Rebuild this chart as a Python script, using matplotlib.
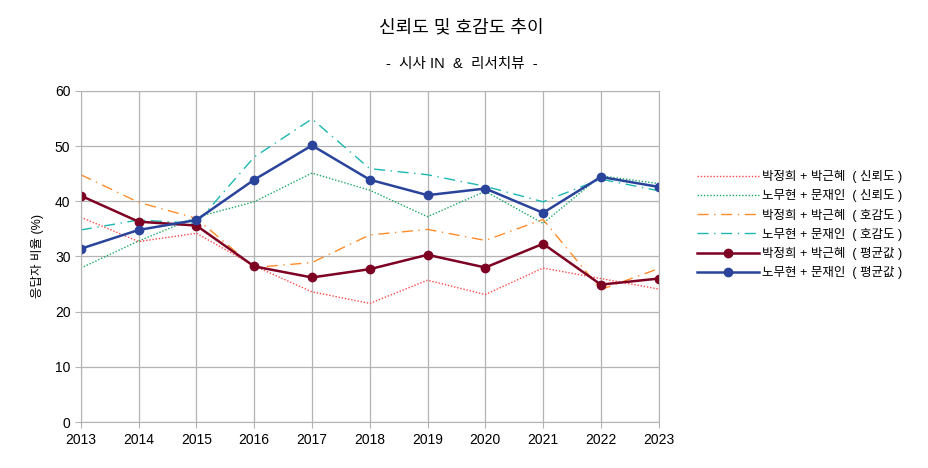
import matplotlib
matplotlib.use("Agg")
import matplotlib.pyplot as plt

plt.rcParams['font.family'] = ['Liberation Sans', 'Noto Sans CJK KR', 'DejaVu Sans']

years = list(range(2013, 2024))

# values
park_trust = [37.1, 32.7, 34.2, 28.3, 23.6, 21.5, 25.7, 23.1, 27.9, 26.0, 24.1]
roh_trust = [27.9, 32.8, 37.1, 39.9, 45.1, 42.0, 37.2, 41.8, 36.0, 44.6, 43.2]
park_fav = [44.8, 39.8, 36.9, 28.0, 28.9, 33.9, 34.9, 32.9, 36.7, 24.0, 27.8]
roh_fav = [34.8, 36.6, 36.0, 48.0, 54.9, 45.9, 44.8, 42.7, 39.9, 44.0, 41.9]
park_avg = [41.0, 36.3, 35.6, 28.2, 26.2, 27.7, 30.3, 28.0, 32.3, 24.9, 26.0]
roh_avg = [31.4, 34.8, 36.6, 43.9, 50.1, 43.9, 41.1, 42.3, 37.9, 44.4, 42.6]

labels = [
    "박정희 + 박근혜  ( 신뢰도 )",
    "노무현 + 문재인  ( 신뢰도 )",
    "박정희 + 박근혜  ( 호감도 )",
    "노무현 + 문재인  ( 호감도 )",
    "박정희 + 박근혜  ( 평균값 )",
    "노무현 + 문재인  ( 평균값 )",
]

fig = plt.figure(figsize=(9.29, 4.68), dpi=100)
ax = fig.add_axes([0.087, 0.098, 0.622, 0.708])

ax.plot(years, park_trust, color='#ff4a4a', lw=1.0, ls=(0, (1, 1.3)), label=labels[0])
ax.plot(years, roh_trust, color='#1aa867', lw=1.0, ls=(0, (1, 1.3)), label=labels[1])
ax.plot(years, park_fav, color='#ff8c2a', lw=1.0, ls=(0, (8, 4, 1, 4)), label=labels[2])
ax.plot(years, roh_fav, color='#1ab8b0', lw=1.0, ls=(0, (8, 4, 1, 4)), label=labels[3])
ax.plot(years, park_avg, color='#7d0023', lw=1.8, marker='o', ms=6, label=labels[4])
ax.plot(years, roh_avg, color='#2a449c', lw=1.8, marker='o', ms=6, label=labels[5])

ax.set_xlim(2013, 2023)
ax.set_ylim(0, 60)
ax.set_xticks(years)
ax.set_yticks(range(0, 61, 10))
ax.grid(True, color='#b3b3b3', lw=0.9)
ax.set_axisbelow(True)
for s in ax.spines.values():
    s.set_color('#b3b3b3')
ax.tick_params(colors='#b3b3b3', labelcolor='black', labelsize=10, length=4, direction='out')
ax.set_ylabel("응답자 비율 (%)", fontsize=9, labelpad=8)

fig.text(0.497, 0.94, "신뢰도 및 호감도 추이", ha='center', va='center', fontsize=13)
fig.text(0.497, 0.863, "-  시사 IN  &  리서치뷰  -", ha='center', va='center', fontsize=10.5)

leg = fig.legend(loc='center left', bbox_to_anchor=(0.74, 0.52), frameon=False,
                 fontsize=9, handlelength=4.9, labelspacing=0.5, handletextpad=0.25,
                 borderpad=0.3)

fig.savefig("out.png", dpi=100)
